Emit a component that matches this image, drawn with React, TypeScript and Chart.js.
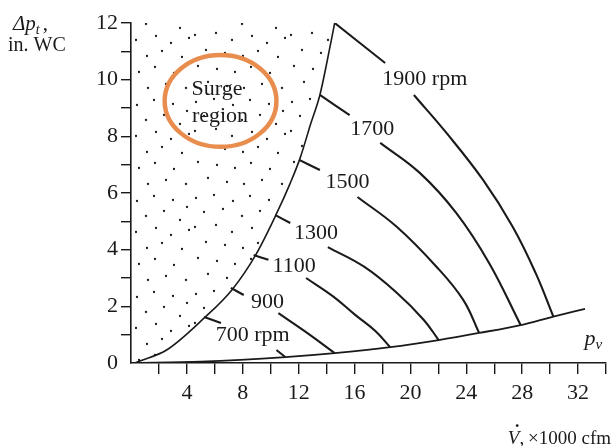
import React, { useEffect, useRef } from "react";
import { Chart, registerables } from "chart.js";

Chart.register(...registerables);

// ---- axis ranges / ticks ----
const xMin = 0;
const xMax = 34;
const yMin = 0;
const yMax = 12;
const xTickStep = 2;
const xLabelStep = 4;
const xLabelMax = 32;
const yTickStep = 1;
const yLabelStep = 2;

// ---- surge line (boundary of surge region) ----
const surgeX = [0.28, 0.64, 2.55, 5.24, 7.22, 8.92, 10.34, 11.4, 12.11, 12.88, 13.52, 14.3, 14.58];
const surgeY = [0, 0.07, 0.46, 1.59, 2.58, 3.81, 5.19, 6.35, 7.24, 8.47, 9.46, 11.3, 12.0];

// ---- velocity pressure curve p_v ----
const pvX = [0, 5, 11.04, 14.58, 18.55, 22.02, 24.92, 27.89, 30.23, 32.5];
const pvY = [0, 0.05, 0.21, 0.35, 0.56, 0.81, 1.06, 1.34, 1.64, 1.91];

// ---- fan speed curves: short lead from surge line, then the main curve ----
const lead700X = [5.24, 6.44];
const lead700Y = [1.62, 1.41];
const curve700X = [10.41, 11.04];
const curve700Y = [0.46, 0.21];

const lead900X = [7.15, 8.07];
const lead900Y = [2.65, 2.4];
const curve900X = [10.55, 12.53, 14.58];
const curve900Y = [1.76, 1.09, 0.35];

const lead1100X = [8.78, 9.84];
const lead1100Y = [3.81, 3.64];
const curve1100X = [12.53, 14.44, 16.07, 17.49, 18.55];
const curve1100Y = [3.0, 2.36, 1.69, 1.13, 0.56];

const lead1300X = [10.34, 11.4];
const lead1300Y = [5.22, 4.94];
const curve1300X = [14.09, 16.71, 19.04, 20.96, 22.02];
const curve1300Y = [4.09, 3.39, 2.47, 1.52, 0.81];

const lead1500X = [12.04, 13.52];
const lead1500Y = [7.17, 6.81];
const curve1500X = [16.21, 19.04, 21.88, 23.79, 24.92];
const curve1500Y = [5.86, 4.8, 3.39, 2.22, 1.06];

const lead1700X = [13.52, 15.65];
const lead1700Y = [9.46, 8.75];
const curve1700X = [17.84, 20.67, 23.29, 25.63, 27.89];
const curve1700Y = [7.77, 6.71, 5.29, 3.53, 1.34];

const lead1900X = [14.58, 18.19];
const lead1900Y = [12.0, 10.59];
const curve1900X = [20.25, 22.58, 25.2, 27.33, 28.96, 30.23];
const curve1900Y = [9.46, 8.12, 6.46, 4.8, 3.18, 1.64];

// ---- curve labels (anchored in data coordinates) ----
const curveLabels = ["700 rpm", "900", "1100", "1300", "1500", "1700", "1900 rpm"];
const curveLabelX = [8.71, 9.77, 11.68, 13.24, 15.5, 17.27, 21.03];
const curveLabelY = [0.99, 2.15, 3.42, 4.59, 6.39, 8.26, 10.02];

const regionLabels = ["Surge", "region"];
const regionLabelX = [6.16, 6.37];
const regionLabelY = [9.67, 8.72];

const pvLabelX = [33.1];
const pvLabelY = [0.78];

// ---- circled annotation (data coords centre, radii) ----
const circleCX = [6.41];
const circleCY = [9.25];
const circleRX = [4.0];
const circleRY = [1.62];

const SERIF = '"Liberation Serif", "Times New Roman", serif';
const INK = "#1a1a1a";

const toPts = (xs: number[], ys: number[]) => xs.map((x, i) => ({ x, y: ys[i] }));

// stipple texture used to shade the surge region (style only)
const stippleDots = [
  [4, 6], [22, 3], [41, 9], [58, 4], [77, 8], [91, 15],
  [12, 20], [31, 17], [50, 24], [68, 19], [84, 28],
  [3, 35], [24, 33], [40, 40], [60, 36], [75, 43], [93, 38],
  [14, 50], [33, 53], [51, 56], [66, 51], [86, 57],
  [6, 66], [25, 69], [43, 72], [59, 67], [78, 73],
  [16, 82], [35, 86], [52, 88], [70, 84], [90, 88],
];

function makeStipple(): CanvasPattern | string {
  const tile = document.createElement("canvas");
  tile.width = 96;
  tile.height = 96;
  const c = tile.getContext("2d");
  if (!c) return "rgba(0,0,0,0)";
  c.fillStyle = "#1a1a1a";
  stippleDots.forEach(([dx, dy]) => {
    c.beginPath();
    c.arc(dx, dy, 1.15, 0, Math.PI * 2);
    c.fill();
  });
  return c.createPattern(tile, "repeat") || "rgba(0,0,0,0)";
}

const textPlugin = {
  id: "fanTexts",
  afterDatasetsDraw(chart: any) {
    const { ctx, scales } = chart;
    const xs = scales.x;
    const ys = scales.y;
    ctx.save();

    // orange circle
    {
      const cx = xs.getPixelForValue(circleCX[0]);
      const cy = ys.getPixelForValue(circleCY[0]);
      const rx = Math.abs(xs.getPixelForValue(circleCX[0] + circleRX[0]) - cx);
      const ry = Math.abs(ys.getPixelForValue(circleCY[0] + circleRY[0]) - cy);
      ctx.strokeStyle = "#E98D4E";
      ctx.lineWidth = 4.5;
      ctx.beginPath();
      ctx.ellipse(cx, cy, rx, ry, 0, 0, Math.PI * 2);
      ctx.stroke();
    }

    // curve labels
    ctx.fillStyle = INK;
    ctx.textAlign = "center";
    ctx.textBaseline = "middle";
    ctx.font = `22px ${SERIF}`;
    curveLabels.forEach((t, i) => {
      ctx.fillText(t, xs.getPixelForValue(curveLabelX[i]), ys.getPixelForValue(curveLabelY[i]));
    });
    regionLabels.forEach((t, i) => {
      ctx.fillText(t, xs.getPixelForValue(regionLabelX[i]), ys.getPixelForValue(regionLabelY[i]));
    });

    // p_v label
    {
      const px = xs.getPixelForValue(pvLabelX[0]);
      const py = ys.getPixelForValue(pvLabelY[0]);
      ctx.textAlign = "left";
      ctx.textBaseline = "alphabetic";
      ctx.font = `italic 22px ${SERIF}`;
      const wp = ctx.measureText("p").width;
      ctx.font = `italic 15px ${SERIF}`;
      const wv = ctx.measureText("v").width;
      const x0 = px - (wp + wv) / 2;
      ctx.font = `italic 22px ${SERIF}`;
      ctx.fillText("p", x0, py + 4);
      ctx.font = `italic 15px ${SERIF}`;
      ctx.fillText("v", x0 + wp, py + 8);
    }

    // y-axis title
    {
      ctx.textAlign = "left";
      ctx.textBaseline = "alphabetic";
      let x = 13;
      const base = 30;
      ctx.font = `italic 21px ${SERIF}`;
      ctx.fillText("Δp", x, base);
      x += ctx.measureText("Δp").width;
      ctx.font = `italic 14px ${SERIF}`;
      ctx.fillText("t", x, base + 4);
      x += ctx.measureText("t").width + 3;
      ctx.font = `21px ${SERIF}`;
      ctx.fillText(",", x, base);
      ctx.font = `20px ${SERIF}`;
      ctx.fillText("in. WC", 8, 51);
    }

    // x-axis title
    {
      ctx.textAlign = "left";
      ctx.textBaseline = "alphabetic";
      const base = 444;
      const size = 19;
      ctx.font = `italic ${size}px ${SERIF}`;
      const wV = ctx.measureText("V").width;
      ctx.font = `${size}px ${SERIF}`;
      const rest = ",\u2009×1000 cfm";
      const wR = ctx.measureText(rest).width;
      const x0 = 611 - wV - wR;
      ctx.font = `italic ${size}px ${SERIF}`;
      ctx.fillText("V", x0, base);
      ctx.font = `bold ${size}px ${SERIF}`;
      ctx.textAlign = "center";
      ctx.fillText("˙", x0 + wV * 0.8, base - 7);
      ctx.textAlign = "left";
      ctx.font = `${size}px ${SERIF}`;
      ctx.fillText(rest, x0 + wV, base);
    }

    ctx.restore();
  },
};

export default function App() {
  const canvasRef = useRef<HTMLCanvasElement | null>(null);

  useEffect(() => {
    const canvas = canvasRef.current;
    if (!canvas) return;
    const stipple = makeStipple();

    const curve = (xs: number[], ys: number[], w = 2.1, smooth = true) => ({
      data: toPts(xs, ys),
      showLine: true,
      borderColor: INK,
      borderWidth: w,
      pointRadius: 0,
      pointHoverRadius: 0,
      fill: false,
      tension: smooth ? 0.4 : 0,
    });

    const chart = new Chart(canvas, {
      type: "scatter",
      data: {
        datasets: [
          {
            ...curve(surgeX, surgeY, 1.6),
            cubicInterpolationMode: "monotone",
            fill: "end",
            backgroundColor: stipple as any,
          },
          { ...curve(pvX, pvY, 1.8), cubicInterpolationMode: "monotone" },
          curve(lead700X, lead700Y),
          curve(curve700X, curve700Y),
          curve(lead900X, lead900Y),
          curve(curve900X, curve900Y),
          curve(lead1100X, lead1100Y),
          curve(curve1100X, curve1100Y),
          curve(lead1300X, lead1300Y),
          curve(curve1300X, curve1300Y),
          curve(lead1500X, lead1500Y),
          curve(curve1500X, curve1500Y),
          curve(lead1700X, lead1700Y),
          curve(curve1700X, curve1700Y),
          curve(lead1900X, lead1900Y),
          curve(curve1900X, curve1900Y),
        ] as any,
      },
      options: {
        animation: false,
        responsive: false,
        devicePixelRatio: 1,
        layout: { padding: { top: 23, right: 1, left: 0, bottom: 0 } },
        plugins: {
          legend: { display: false },
          tooltip: { enabled: false },
          title: { display: false },
        },
        scales: {
          x: {
            type: "linear",
            min: xMin,
            max: xMax,
            afterFit: (s: any) => {
              s.height = 83;
            },
            border: { display: true, color: INK, width: 1.6 },
            grid: {
              drawOnChartArea: false,
              drawTicks: true,
              tickLength: 11,
              lineWidth: 1.4,
              color: (c: any) => (c.tick && c.tick.value === 0 ? "rgba(0,0,0,0)" : INK),
            },
            ticks: {
              stepSize: xTickStep,
              autoSkip: false,
              maxRotation: 0,
              padding: 6,
              color: INK,
              font: { family: SERIF, size: 22 },
              callback: (v: any) => {
                const n = Number(v);
                return n > 0 && n <= xLabelMax && n % xLabelStep === 0 ? String(n) : "";
              },
            },
          },
          y: {
            type: "linear",
            min: yMin,
            max: yMax,
            afterFit: (s: any) => {
              s.width = 131;
            },
            border: { display: true, color: INK, width: 1.6 },
            grid: {
              drawOnChartArea: false,
              drawTicks: true,
              tickLength: 10,
              lineWidth: 1.4,
              color: (c: any) => (c.tick && c.tick.value === 0 ? "rgba(0,0,0,0)" : INK),
            },
            ticks: {
              stepSize: yTickStep,
              autoSkip: false,
              padding: 3,
              color: INK,
              font: { family: SERIF, size: 22 },
              callback: (v: any) => {
                const n = Number(v);
                return n % yLabelStep === 0 ? String(n) : "";
              },
            },
          },
        },
      },
      plugins: [textPlugin],
    });

    return () => chart.destroy();
  }, []);

  return (
    <div style={{ position: "absolute", left: 0, top: 0, width: 612, height: 446, background: "#fff" }}>
      <canvas ref={canvasRef} width={612} height={446} style={{ display: "block", width: 612, height: 446 }} />
    </div>
  );
}
